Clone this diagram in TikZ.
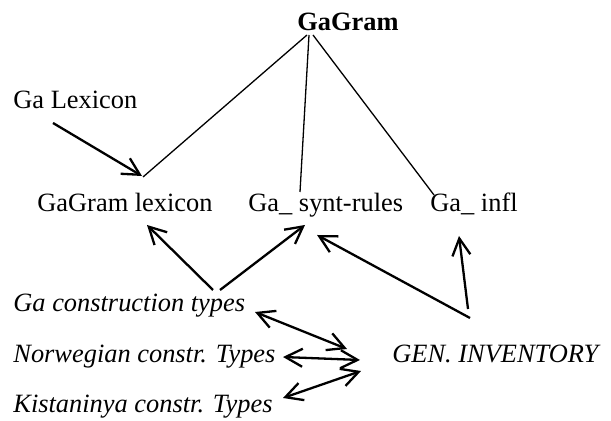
\documentclass[tikz,border=0pt]{standalone}
\usepackage{fontspec}
\setmainfont{Liberation Serif}
\usetikzlibrary{arrows.meta}
\begin{document}
\begin{tikzpicture}[x=0.5pt,y=-0.5pt,
  lbl/.style={anchor=base west, inner sep=0pt, font=\fontsize{13.2}{15}\selectfont},
  ilbl/.style={lbl, font=\fontsize{13.2}{15}\selectfont\itshape},
  tree/.style={line width=0.65pt},
  tip/.tip={Straight Barb[length=8.5pt,width=9pt]},
  arr/.style={line width=1.15pt, -tip},
  darr/.style={line width=1.15pt, tip-tip}]
\useasboundingbox (0,0) rectangle (611,421);
% nodes
\node[lbl, font=\fontsize{13.2}{15}\selectfont\bfseries] (gagram) at (297,31) {GaGram};
\node[lbl] (galex) at (13,109) {Ga Lexicon};
\node[lbl] (gglex) at (37,212) {GaGram lexicon};
\node[lbl] (synt) at (248,212) {Ga\_ synt-rules};
\node[lbl] (infl) at (430,212) {Ga\_ infl};
\node[ilbl] (gact) at (13,312) {Ga construction types};
\node[ilbl] (nor) at (13,363) {Norwegian constr. Types};
\node[ilbl] (kis) at (13,413) {Kistaninya constr. Types};
\node[ilbl] (gen) at (392,363) {GEN. INVENTORY};
% connector end points
\coordinate (topL) at (307,35);
\coordinate (topM) at (309,35);
\coordinate (topR) at (313,35);
\coordinate (gglexT) at (143,177);
\coordinate (syntT) at (300,192);
\coordinate (inflT) at (434,195);
\coordinate (galexS) at (53,123);
\coordinate (gglexIn) at (142,176);
\coordinate (gglexB) at (147,225);
\coordinate (syntB) at (305,225);
\coordinate (syntB2) at (317,235);
\coordinate (inflB) at (459,236);
\coordinate (gactA) at (213,290);
\coordinate (gactB) at (220,290);
\coordinate (genA) at (470,318);
\coordinate (genB) at (468,309);
\coordinate (gactE) at (255,312);
\coordinate (genE1) at (347,349);
\coordinate (norE) at (283,357);
\coordinate (genE2) at (360,360);
\coordinate (kisE) at (283,398);
\coordinate (genE3) at (361,371);
% tree lines
\draw[tree] (topL) -- (gglexT);
\draw[tree] (topM) -- (syntT);
\draw[tree] (topR) -- (inflT);
% arrows
\draw[arr] (galexS) -- (gglexIn);
\draw[arr] (gactA) -- (gglexB);
\draw[arr] (gactB) -- (syntB);
\draw[arr] (genA) -- (syntB2);
\draw[arr] (genB) -- (inflB);
\draw[darr] (gactE) -- (genE1);
\draw[darr] (norE) -- (genE2);
\draw[darr] (kisE) -- (genE3);
\end{tikzpicture}
\end{document}
